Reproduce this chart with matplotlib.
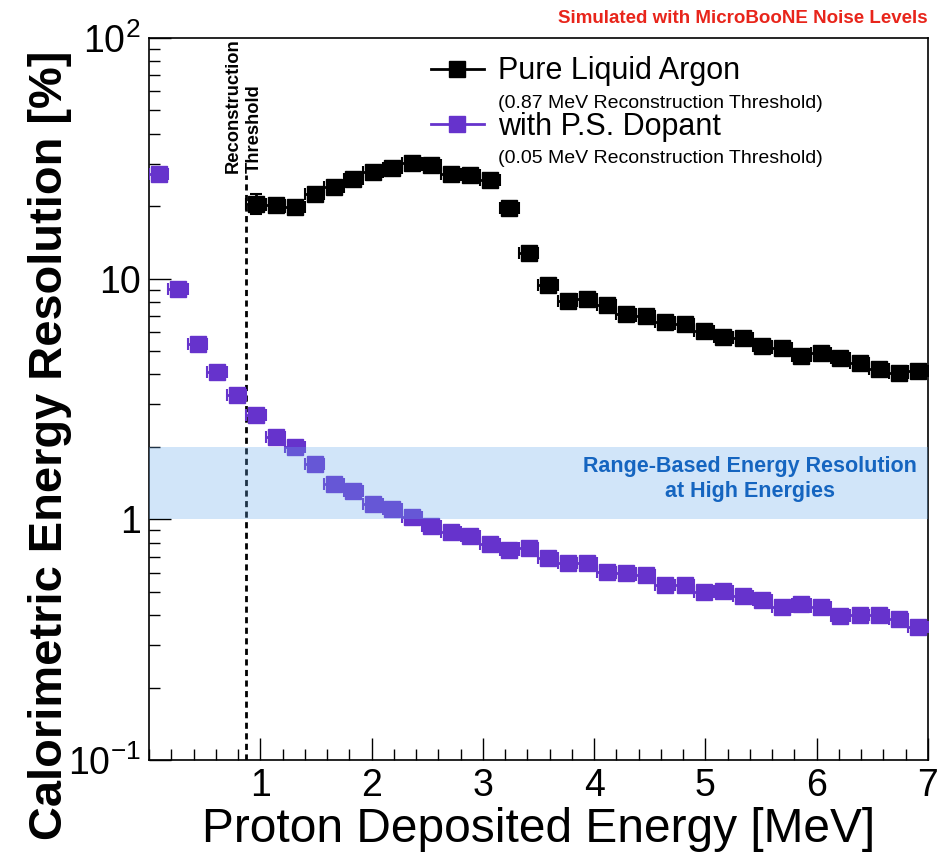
import numpy as np
import matplotlib
matplotlib.use('Agg')
import matplotlib.pyplot as plt
from matplotlib.lines import Line2D
from matplotlib.ticker import MultipleLocator, FixedLocator, FixedFormatter, LogLocator

plt.rcParams['font.family'] = ['Liberation Sans', 'DejaVu Sans']

# 40 bins of 0.175 MeV between 0 and 7 MeV
bin_edges = np.linspace(0, 7, 41)
bin_centres = 0.5 * (bin_edges[:-1] + bin_edges[1:])
half_width = 0.5 * (bin_edges[1] - bin_edges[0])

# pure LAr: first filled bin is index 5 (above the 0.87 MeV threshold)
lar_first_bin = 5
lar_res = [20.5, 20.3, 19.9, 22.5, 24.1, 26.0, 27.8, 28.9, 30.3, 29.7,
           27.3, 27.0, 25.8, 19.7, 12.8, 9.45, 8.1, 8.2, 7.8, 7.16,
           7.0, 6.63, 6.5, 6.03, 5.74, 5.69, 5.27, 5.13, 4.75, 4.93,
           4.66, 4.48, 4.23, 4.04, 4.15]
lar_err = [2.0, 0.5, 0.5, 0.5, 0.5, 0.5, 0.5, 0.5, 0.5, 0.5,
           0.5, 0.5, 0.5, 0.4, 0.3, 0.2, 0.2, 0.2, 0.15, 0.15,
           0.15, 0.12, 0.12, 0.1, 0.1, 0.1, 0.1, 0.1, 0.08, 0.08,
           0.08, 0.08, 0.08, 0.08, 0.08]

# with P.S. dopant: all 40 bins
dop_res = [27.3, 9.04, 5.33, 4.08, 3.29, 2.70, 2.20, 1.99, 1.70, 1.40,
           1.31, 1.16, 1.10, 1.02, 0.938, 0.883, 0.853, 0.793, 0.748, 0.76,
           0.689, 0.656, 0.656, 0.603, 0.597, 0.586, 0.532, 0.532, 0.498, 0.503,
           0.479, 0.461, 0.431, 0.443, 0.431, 0.396, 0.40, 0.40, 0.385, 0.356]
dop_err = [0.6, 0.2, 0.1, 0.08, 0.06, 0.05, 0.04, 0.03, 0.03, 0.02,
           0.02, 0.02, 0.02, 0.02, 0.015, 0.015, 0.015, 0.01, 0.01, 0.01,
           0.01, 0.01, 0.01, 0.01, 0.01, 0.01, 0.01, 0.01, 0.01, 0.01,
           0.01, 0.01, 0.01, 0.01, 0.01, 0.01, 0.01, 0.01, 0.01, 0.01]

threshold = 0.87
range_band = [1.0, 2.0]

purple = '#6633cc'

fig = plt.figure(figsize=(9.43, 8.61), dpi=100)
ax = fig.add_axes([0.158, 0.1173, 0.826, 0.8387])

ax.errorbar(bin_centres[lar_first_bin:], lar_res, yerr=lar_err, xerr=half_width,
            fmt='s', color='black', ms=12, elinewidth=2, capsize=4, capthick=1.5,
            zorder=3)
ax.errorbar(bin_centres, dop_res, yerr=dop_err, xerr=half_width,
            fmt='s', color=purple, ms=12, elinewidth=2, capsize=4, capthick=1.5,
            zorder=3)

# range-based band drawn over the markers, transparent
ax.axhspan(range_band[0], range_band[1], color='#69acee', alpha=0.3, lw=0, zorder=4)
ax.text(5.40, 1.47, 'Range-Based Energy Resolution\nat High Energies', ha='center',
        va='center', multialignment='center', fontsize=15.5, fontweight='bold',
        color='#1565c0', zorder=5, linespacing=1.2)

ax.axvline(threshold, ymin=0, ymax=0.81, color='black', ls=(0, (2.2, 1.6)), lw=2, zorder=2)
ax.text(threshold - 0.015, 27.5, 'Reconstruction\nThreshold', rotation=90, ha='center',
        va='bottom', multialignment='left', fontsize=13.2, fontweight='bold',
        linespacing=1.3)

ax.set_yscale('log')
ax.set_xlim(0, 7)
ax.set_ylim(0.1, 100)

ax.xaxis.set_major_locator(FixedLocator([1, 2, 3, 4, 5, 6, 7]))
ax.xaxis.set_minor_locator(MultipleLocator(0.2))
ax.yaxis.set_major_locator(FixedLocator([0.1, 1, 10, 100]))
ax.yaxis.set_major_formatter(FixedFormatter([r'$\mathdefault{10^{-1}}$', '1', '10',
                                             r'$\mathdefault{10^{2}}$']))
ax.yaxis.set_minor_locator(LogLocator(base=10, subs=np.arange(2, 10)))
ax.yaxis.set_minor_formatter(FixedFormatter([]))

ax.tick_params(which='both', direction='in', top=False, right=False, labelsize=27)
ax.tick_params(which='major', length=16, width=1)
ax.tick_params(which='minor', length=8, width=1)
ax.tick_params(axis='x', pad=6)
ax.tick_params(axis='y', pad=6)
for s in ax.spines.values():
    s.set_linewidth(1.2)

ax.set_xlabel('Proton Deposited Energy [MeV]', fontsize=34.5, labelpad=2)
ax.set_ylabel('Calorimetric Energy Resolution [%]', fontsize=33.8, fontweight='bold')
ax.yaxis.set_label_coords(-0.099, 0.436)

# legend with small subtitles under each entry
h1 = Line2D([], [], color='black', marker='s', ms=12, lw=2)
h2 = Line2D([], [], color=purple, marker='s', ms=12, lw=2)
blank = Line2D([], [], visible=False)
leg = ax.legend([h1, blank, h2, blank],
                ['Pure Liquid Argon', '(0.87 MeV Reconstruction Threshold)',
                 'with P.S. Dopant', '(0.05 MeV Reconstruction Threshold)'],
                loc='upper left', bbox_to_anchor=(0.338, 1.0), frameon=False,
                fontsize=22, handlelength=1.75, handletextpad=0.45, labelspacing=0.0,
                borderaxespad=0.2)
for t in leg.get_texts()[1::2]:
    t.set_fontsize(14)

fig.text(0.984, 0.979, 'Simulated with MicroBooNE Noise Levels', ha='right', va='center',
         fontsize=13.5, fontweight='bold', color='#e8251b')

fig.savefig('out.png', dpi=100)
